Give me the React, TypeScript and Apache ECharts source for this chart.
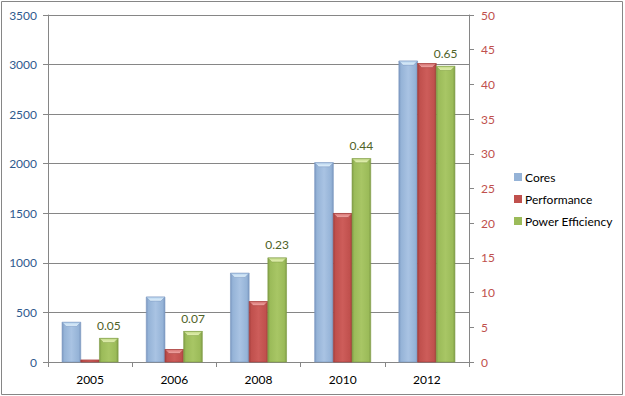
import React, { useEffect, useRef } from "react";
import * as echarts from "echarts";

const categories = ["2005", "2006", "2008", "2010", "2012"];
const cores = [400, 655, 895, 2010, 3035];
const performance = [0.3, 1.8, 8.7, 21.4, 43.0];
const powerEfficiency = [3.4, 4.4, 15.0, 29.3, 42.6];
const powerLabels = ["0.05", "0.07", "0.23", "0.44", "0.65"];
const leftTicks = { min: 0, max: 3500, interval: 500 };
const rightTicks = { min: 0, max: 50, interval: 5 };

const FONT = "Lato, 'Open Sans', sans-serif";

type Palette = { base: string; edge: string; light: string; bevel: string; bevelEdge: string };

const blue: Palette = { base: "#95B3D7", edge: "#7A97C0", light: "#A9C3E3", bevel: "#E4F3FC", bevelEdge: "#B7D3EE" };
const red: Palette = { base: "#C0504D", edge: "#A33E3C", light: "#CD5D5A", bevel: "#F3A8A6", bevelEdge: "#D67573" };
const green: Palette = { base: "#9BBB59", edge: "#7F9C45", light: "#A8C665", bevel: "#E8F4B6", bevelEdge: "#C0D886" };

function makeRender(pos: number, pal: Palette, labels?: string[]) {
  return (params: any, api: any) => {
    const idx = api.value(0);
    const v = api.value(1);
    const base = api.coord([idx, 0]);
    const top = api.coord([idx, v]);
    const band = api.size([1, 0])[0];
    const bw = band * 0.222;
    const x0 = base[0] - 1.5 * bw + pos * bw;
    const h = base[1] - top[1];
    const children: any[] = [
      {
        type: "rect",
        shape: { x: x0, y: top[1], width: bw, height: h },
        style: {
          fill: new echarts.graphic.LinearGradient(0, 0, 1, 0, [
            { offset: 0, color: pal.edge },
            { offset: 0.12, color: pal.base },
            { offset: 0.5, color: pal.light },
            { offset: 0.88, color: pal.base },
            { offset: 1, color: pal.edge },
          ]),
          stroke: pal.edge,
          lineWidth: 0.6,
        },
      },
    ];
    if (h > 5) {
      const d = 4;
      children.push({
        type: "polygon",
        shape: {
          points: [
            [x0, top[1]],
            [x0 + bw, top[1]],
            [x0 + bw - d, top[1] + d],
            [x0 + d, top[1] + d],
          ],
        },
        style: {
          fill: new echarts.graphic.LinearGradient(0, 0, 0, 1, [
            { offset: 0, color: pal.bevelEdge },
            { offset: 1, color: pal.bevel },
          ]),
          stroke: pal.edge,
          lineWidth: 0.5,
        },
      });
    }
    if (labels) {
      children.push({
        type: "text",
        style: {
          text: labels[params.dataIndex],
          x: x0 + bw / 2,
          y: top[1] - 7,
          fill: "#4F6228",
          fontSize: 12,
          fontFamily: FONT,
          align: "center",
          verticalAlign: "bottom",
        },
      });
    }
    return { type: "group", children };
  };
}

export default function App() {
  const ref = useRef<HTMLDivElement>(null);
  useEffect(() => {
    if (!ref.current) return;
    const chart = echarts.init(ref.current, undefined, { renderer: "svg" });
    const axisGray = "#868686";
    chart.setOption({
      animation: false,
      backgroundColor: "#ffffff",
      textStyle: { fontFamily: FONT },
      grid: { left: 48, right: 156, top: 15, bottom: 34, containLabel: false },
      graphic: [
        {
          type: "rect",
          shape: { x: 1.5, y: 1.5, width: 621, height: 393 },
          style: { fill: "none", stroke: axisGray, lineWidth: 1 },
          silent: true,
          z: -1,
        },
      ],
      legend: {
        orient: "vertical",
        left: 509,
        top: 166,
        itemWidth: 8,
        itemHeight: 8,
        itemGap: 10,
        icon: "rect",
        textStyle: { color: "#000", fontSize: 12, fontFamily: FONT, padding: [0, 0, 0, -2] },
        data: ["Cores", "Performance", "Power Efficiency"],
      },
      xAxis: {
        type: "category",
        data: categories,
        axisLine: { lineStyle: { color: axisGray } },
        axisTick: { show: true, length: 5, lineStyle: { color: axisGray } },
        axisLabel: { color: "#000", fontSize: 12, fontFamily: FONT, margin: 11 },
      },
      yAxis: [
        {
          type: "value",
          ...leftTicks,
          position: "left",
          axisLine: { show: true, lineStyle: { color: axisGray } },
          axisTick: { show: true, length: 5, lineStyle: { color: axisGray } },
          axisLabel: {
            color: "#2F5A8E",
            fontSize: 12,
            fontFamily: FONT,
            margin: 11,
            formatter: (v: number) => String(v),
          },
          splitLine: { show: true, lineStyle: { color: axisGray, width: 1 } },
        },
        {
          type: "value",
          ...rightTicks,
          position: "right",
          axisLine: { show: true, lineStyle: { color: axisGray } },
          axisTick: { show: true, length: 5, lineStyle: { color: axisGray } },
          axisLabel: {
            color: "#C0504D",
            fontSize: 12,
            fontFamily: FONT,
            margin: 12,
            formatter: (v: number) => String(v),
          },
          splitLine: { show: false },
        },
      ],
      series: [
        {
          name: "Cores",
          type: "custom",
          yAxisIndex: 0,
          itemStyle: { color: blue.base },
          renderItem: makeRender(0, blue),
          encode: { x: 0, y: 1 },
          data: cores.map((v, i) => [i, v]),
        },
        {
          name: "Performance",
          type: "custom",
          yAxisIndex: 1,
          itemStyle: { color: red.base },
          renderItem: makeRender(1, red),
          encode: { x: 0, y: 1 },
          data: performance.map((v, i) => [i, v]),
        },
        {
          name: "Power Efficiency",
          type: "custom",
          yAxisIndex: 1,
          itemStyle: { color: green.base },
          renderItem: makeRender(2, green, powerLabels),
          encode: { x: 0, y: 1 },
          data: powerEfficiency.map((v, i) => [i, v]),
        },
      ],
    });
    return () => chart.dispose();
  }, []);
  return <div ref={ref} style={{ position: "absolute", left: 0, top: 0, width: 625, height: 396 }} />;
}
